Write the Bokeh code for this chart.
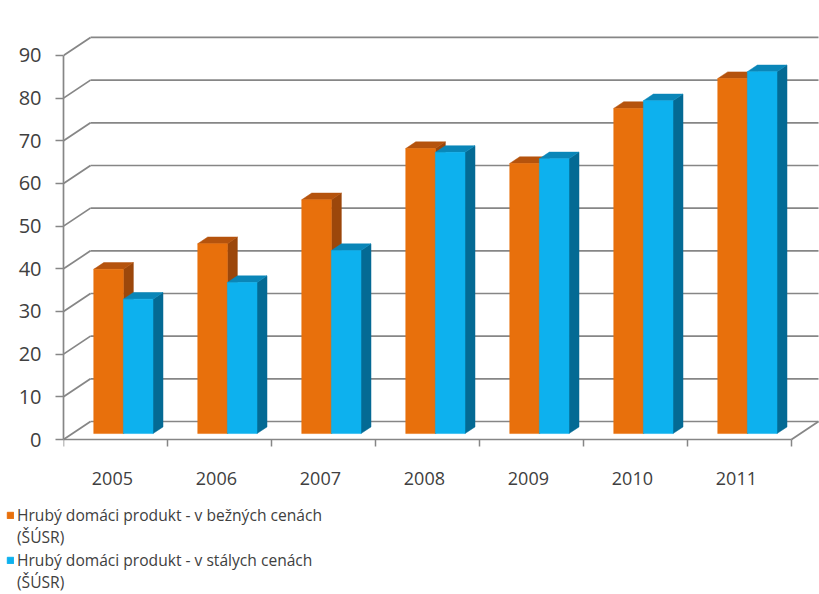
from bokeh.plotting import figure
from bokeh.layouts import column
from bokeh.models import FixedTicker, Legend, LegendItem, Range1d
from bokeh.core.properties import value
from bokeh.embed import file_html
from bokeh.resources import INLINE

# ---------------- data ----------------
years = ["2005", "2006", "2007", "2008", "2009", "2010", "2011"]
current_prices = [38.5, 44.5, 54.8, 66.8, 63.3, 76.2, 83.2]    # v bežných cenách
constant_prices = [31.5, 35.4, 42.9, 65.9, 64.4, 78.0, 84.8]   # v stálych cenách
y_ticks = [0, 10, 20, 30, 40, 50, 60, 70, 80, 90]
series_labels = [
    "Hrubý domáci produkt - v bežných cenách",
    "Hrubý domáci produkt - v stálych cenách",
]
source_label = "(ŠÚSR)"

# ---------------- layout constants ----------------
W = 819
H_CHART, H_LEGEND = 500, 94
PX_LEFT = 63          # pixel x of the front value axis
PX_ZERO = 439         # pixel y of value 0 on the front axis
PX_PER_CAT = 104.0
PX_PER_UNIT = 4.267
DEPTH_X = 27 / PX_PER_CAT      # 3D depth offset in category units
DEPTH_Y = 18 / PX_PER_UNIT     # 3D depth offset in value units
T0, T1 = 0.33, 0.70            # bar front / back position in depth
BAR_W = 0.285
GROUP_START = 0.205

FONT = "Open Sans"
TEXT_COLOR = "#404040"
GRID_COLOR = "#868686"

colors = {
    0: dict(front="#E8700C", top="#B5530D", side="#9C470B"),
    1: dict(front="#0DB1EE", top="#0A86B8", side="#046A94"),
}

n = len(years)
x_end = (W - PX_LEFT) / PX_PER_CAT
y_end = PX_ZERO / PX_PER_UNIT
y_start = -(H_CHART - PX_ZERO) / PX_PER_UNIT

p = figure(width=W, height=H_CHART, x_range=Range1d(0, x_end), y_range=Range1d(y_start, y_end),
           output_backend="svg", toolbar_location=None, x_axis_location=None,
           min_border_left=PX_LEFT, min_border_right=0, min_border_top=0, min_border_bottom=0)
p.frame_align = False
p.outline_line_color = None
p.grid.visible = False
p.background_fill_color = "white"
p.border_fill_color = "white"

# ---------------- walls & floor (gridlines) ----------------
gx0, gy0, gx1, gy1 = [], [], [], []
for v in y_ticks:
    gx0.append(0); gy0.append(v); gx1.append(DEPTH_X); gy1.append(v + DEPTH_Y)
    gx0.append(DEPTH_X); gy0.append(v + DEPTH_Y); gx1.append(n + DEPTH_X); gy1.append(v + DEPTH_Y)
gx0 += [0, n]; gy0 += [0, 0]; gx1 += [n, n + DEPTH_X]; gy1 += [0, DEPTH_Y]
p.segment(x0=gx0, y0=gy0, x1=gx1, y1=gy1, line_color=GRID_COLOR, line_width=1.7)

# category tick marks on the floor's front edge
tick_len = 7 / PX_PER_UNIT
p.segment(x0=list(range(n + 1)), y0=[0] * (n + 1), x1=list(range(n + 1)), y1=[-tick_len] * (n + 1),
          line_color=GRID_COLOR, line_width=1.5)

# ---------------- 3D bars ----------------
fdx, fdy = T0 * DEPTH_X, T0 * DEPTH_Y
bdx, bdy = (T1 - T0) * DEPTH_X, (T1 - T0) * DEPTH_Y
for s, vals in enumerate([current_prices, constant_prices]):
    c = colors[s]
    lefts = [i + fdx + GROUP_START + s * BAR_W for i in range(n)]
    rights = [l + BAR_W for l in lefts]
    tops = [fdy + v for v in vals]
    side_xs = [[r, r + bdx, r + bdx, r] for r in rights]
    side_ys = [[fdy, fdy + bdy, t + bdy, t] for t in tops]
    top_xs = [[l, r, r + bdx, l + bdx] for l, r in zip(lefts, rights)]
    top_ys = [[t, t, t + bdy, t + bdy] for t in tops]
    p.patches(xs=side_xs, ys=side_ys, fill_color=c["side"], line_color=c["side"], line_width=0.5)
    p.patches(xs=top_xs, ys=top_ys, fill_color=c["top"], line_color=c["top"], line_width=0.5)
    p.quad(left=lefts, right=rights, bottom=[fdy] * n, top=tops,
           fill_color=c["front"], line_color=c["front"], line_width=0.5)

# ---------------- category labels ----------------
label_y = -(478 - PX_ZERO) / PX_PER_UNIT
p.text(x=[i + 0.47 for i in range(n)], y=[label_y] * n, text=years,
       text_font=value(FONT), text_font_size="18px", text_color=TEXT_COLOR,
       text_align="center", text_baseline="middle")

# ---------------- value axis ----------------
ax = p.yaxis[0]
ax.ticker = FixedTicker(ticks=y_ticks)
ax.bounds = (0, 90)
ax.axis_line_color = GRID_COLOR
ax.axis_line_width = 1.7
ax.major_tick_line_color = GRID_COLOR
ax.major_tick_line_width = 1.7
ax.major_tick_out = 8
ax.major_tick_in = 0
ax.minor_tick_line_color = None
ax.major_label_standoff = 14
ax.major_label_text_font = FONT
ax.major_label_text_font_size = "20px"
ax.major_label_text_color = TEXT_COLOR

# ---------------- legend (own strip below the chart) ----------------
lg = figure(width=W, height=H_LEGEND, x_range=Range1d(0, 1), y_range=Range1d(0, 1),
            output_backend="svg", toolbar_location=None,
            x_axis_location=None, y_axis_location=None,
            min_border_left=0, min_border_right=0, min_border_top=0, min_border_bottom=0)
lg.frame_align = False
lg.outline_line_color = None
lg.grid.visible = False
# swatch renderers sit outside the strip's visible range; only their legend glyphs show
blank = lg.quad(left=[2], right=[3], bottom=[2], top=[3], fill_alpha=0, line_alpha=0)
for s, loc_y, row_h in [(0, 46, 22), (1, 1, 21)]:
    swatch = lg.quad(left=[2], right=[3], bottom=[2], top=[3],
                     fill_color=colors[s]["front"], line_color=colors[s]["front"])
    leg = Legend(
        items=[LegendItem(label=series_labels[s], renderers=[swatch]),
               LegendItem(label=source_label, renderers=[blank])],
        location=(6, loc_y),
        background_fill_alpha=0, border_line_color=None,
        label_text_font=FONT, label_text_font_size="15.6px", label_text_color=TEXT_COLOR,
        glyph_width=8, glyph_height=8, label_height=row_h,
        padding=0, spacing=0, margin=0, label_standoff=3,
    )
    lg.add_layout(leg)

layout = column(p, lg, spacing=0)
open("out.html", "w").write(file_html(layout, INLINE))
